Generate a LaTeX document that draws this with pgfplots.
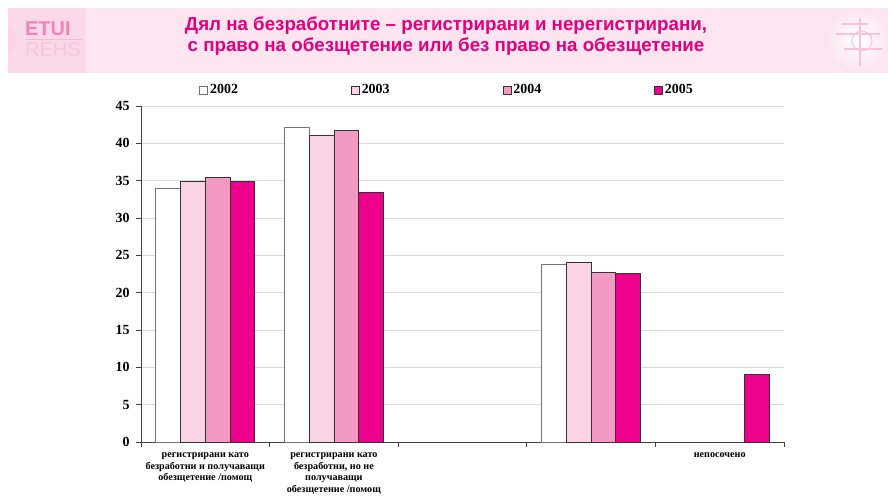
\documentclass[border=0pt]{standalone}
\usepackage{fontspec}
\setmainfont{Liberation Serif}
\newfontfamily\titlefont{Liberation Sans}
\usepackage{pgfplots}
\pgfplotsset{compat=1.18}
\definecolor{cA}{HTML}{FFFFFF}
\definecolor{cB}{HTML}{FAD4E5}
\definecolor{cC}{HTML}{F39AC2}
\definecolor{cD}{HTML}{EC008C}
\definecolor{ttl}{HTML}{E2007D}
\definecolor{banner}{HTML}{FCE5EF}
\definecolor{gridc}{HTML}{DADADA}

\begin{document}
\begin{tikzpicture}
  \path[use as bounding box] (0,0) rectangle (888bp,-496bp);
  \fill[white] (0,0) rectangle (888bp,-496bp);
  %% banner
  \fill[banner] (8bp,-8bp) rectangle (888bp,-73bp);
  \fill[cB!70!banner] (8bp,-8bp) rectangle (85bp,-73bp);
  \begin{scope}
    \clip (8bp,-8bp) rectangle (85bp,-73bp);
    \fill[cB] (2bp,-40bp) circle (14bp);
  \end{scope}
  \node[font=\titlefont\bfseries\fontsize{20}{20}\selectfont, text=cC!85!cD, anchor=west, inner sep=0pt] at (25bp,-29bp) {ETUI};
  \draw[cC!70, line width=1bp] (25bp,-39bp) -- (82bp,-39bp);
  \node[font=\titlefont\fontsize{20}{20}\selectfont, text=cC!55, anchor=west, inner sep=0pt] at (25bp,-50bp) {REHS};
  \shade[inner color=white, outer color=banner] (858bp,-40bp) circle (32bp);
  \draw[cC!60, line width=1.2bp] (842bp,-24bp) -- (868bp,-24bp) (836bp,-34bp) -- (880bp,-34bp)
     (844bp,-49bp) -- (882bp,-49bp) (860bp,-18bp) -- (860bp,-66bp);
  \draw[cC!60, line width=1bp] (862bp,-41bp) circle (10bp);
  \node[font=\titlefont\bfseries\fontsize{18.8}{21}\selectfont, text=ttl, align=center] at (446bp,-36bp)
    {Дял на безработните – регистрирани и нерегистрирани,\\с право на обезщетение или без право на обезщетение};

  \begin{axis}[
    at={(141bp,-442bp)}, anchor=south west,
    scale only axis, width=643bp, height=336bp,
    ybar=0pt, bar width=0.1925,
    xmin=-0.5, xmax=4.5, ymin=0, ymax=45,
    ytick={0,5,...,45},
    xtick={0,1,2,3,4},
    xticklabels={{регистрирани като\\безработни и получаващи\\обезщетение /помощ},
                 {регистрирани като\\безработни, но не\\получаващи\\обезщетение /помощ},
                 {},{},{непосочено}},
    minor xtick={-0.5,0.5,1.5,2.5,3.5,4.5},
    major x tick style={draw=none},
    tick align=outside,
    minor tick length=5bp, major tick length=5bp,
    axis x line*=bottom, axis y line*=left,
    axis line style={black!75, line width=0.8bp},
    tick style={black!75, line width=0.8bp},
    ymajorgrids, grid style={gridc, line width=0.9bp},
    /pgf/number format/assume math mode=true,
    yticklabel style={font=\bfseries\fontsize{14}{14}\selectfont, xshift=-3bp},
    xticklabel style={font=\bfseries\fontsize{10.2}{11.8}\selectfont, align=center, yshift=-2bp},
    legend columns=4,
    legend style={at={(0.086,1.048)}, anchor=west, draw=none, fill=none,
      font=\bfseries\fontsize{14}{14}\selectfont,
      /tikz/every even column/.append style={column sep=111bp}},
    legend image code/.code={\draw[#1, line width=0.7bp] (0bp,-4bp) rectangle (8bp,4bp);},
  ]
  \addplot[fill=cA, draw=black!55, line width=0.8bp] coordinates {(0,33.9) (1,42.2) (3,23.8)};
  \addlegendentry{2002}
  \addplot[fill=cB, draw=black!80, line width=0.8bp] coordinates {(0,34.9) (1,41.0) (3,24.0)};
  \addlegendentry{2003}
  \addplot[fill=cC, draw=black!80, line width=0.8bp] coordinates {(0,35.45) (1,41.7) (3,22.7)};
  \addlegendentry{2004}
  \addplot[fill=cD, draw=black!80, line width=0.8bp] coordinates {(0,34.9) (1,33.45) (3,22.55) (4,9.05)};
  \addlegendentry{2005}
  \end{axis}
\end{tikzpicture}
\end{document}
